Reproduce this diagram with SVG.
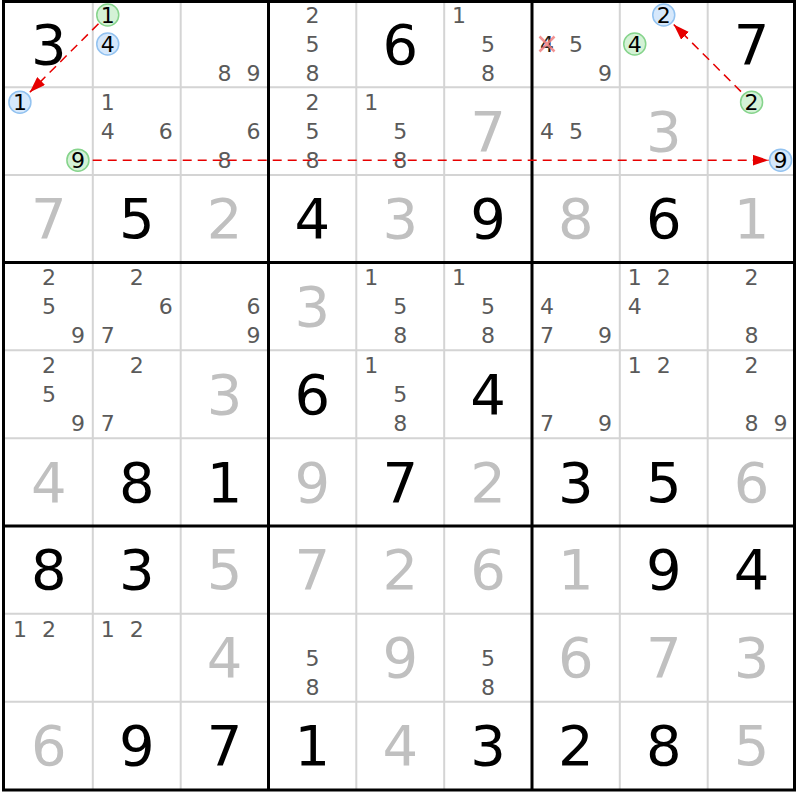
<svg xmlns="http://www.w3.org/2000/svg" width="800" height="800" viewBox="0 0 800 800">
<style>
text{font-family:"DejaVu Sans","Noto Sans",sans-serif;text-anchor:middle}
.big{font-size:56px}
.g{fill:#000}
.s{fill:#c0c0c0}
.c{font-size:22px;fill:#5a5a5a}
.k{font-size:22px;fill:#000}
.thin{stroke:#d4d4d4;stroke-width:2;fill:none}
.thick{stroke:#000;stroke-width:3;fill:none}
.cg{fill:#d4f2d6;stroke:#86d48c;stroke-width:1.5}
.cb{fill:#d6e8fb;stroke:#92c2f0;stroke-width:1.5}
.arr{stroke:#e60000;stroke-width:1.5;stroke-dasharray:9,6;fill:none;marker-end:url(#ah)}
.x{stroke:#f08080;stroke-width:2.5;opacity:0.85}
</style>
<defs>
<marker id="ah" markerWidth="16" markerHeight="11" refX="16" refY="5.5" orient="auto" markerUnits="userSpaceOnUse">
<path d="M0,0 L16,5.5 L0,11 z" fill="#e60000"/>
</marker>
</defs>
<rect x="0" y="0" width="800" height="800" fill="#fff"/>
<g id="grid">
<path class="thin" d="M92.8,0V790M180.7,0V790M356.3,0V790M444.2,0V790M619.8,0V790M707.7,0V790M3,87.3H795M3,175H795M3,350.3H795M3,438.2H795M3,613.8H795M3,701.7H795"/>
<path class="thick" d="M268.5,0V790M532,0V790M3,262.5H795M3,526H795"/>
<rect class="thick" x="3.5" y="1.5" width="791" height="788.5"/>
</g>
<g id="r0c0"><text class="big g" x="48.9" y="63.5">3</text></g>
<g id="r0c1"><circle class="cg" cx="107.75" cy="15" r="11"/><text class="k" x="107.75" y="23">1</text><circle class="cb" cx="107.75" cy="44" r="11"/><text class="k" x="107.75" y="52">4</text></g>
<g id="r0c2"><text class="c" x="224.6" y="81">8</text><text class="c" x="253.6" y="81">9</text></g>
<g id="r0c3"><text class="c" x="312.4" y="23">2</text><text class="c" x="312.4" y="52">5</text><text class="c" x="312.4" y="81">8</text></g>
<g id="r0c4"><text class="big g" x="400.25" y="63.5">6</text></g>
<g id="r0c5"><text class="c" x="459.1" y="23">1</text><text class="c" x="488.1" y="52">5</text><text class="c" x="488.1" y="81">8</text></g>
<g id="r0c6"><text class="k" x="546.9" y="52" style="fill:#222">4</text><path class="x" d="M539.5,36.5L554.5,51.5M554.5,36.5L539.5,51.5"/><text class="c" x="575.9" y="52">5</text><text class="c" x="604.9" y="81">9</text></g>
<g id="r0c7"><circle class="cb" cx="663.75" cy="15" r="11"/><text class="k" x="663.75" y="23">2</text><circle class="cg" cx="634.75" cy="44" r="11"/><text class="k" x="634.75" y="52">4</text></g>
<g id="r0c8"><text class="big g" x="751.6" y="63.5">7</text></g>

<g id="r1c0"><circle class="cb" cx="19.9" cy="102.15" r="11"/><text class="k" x="19.9" y="110.15">1</text><circle class="cg" cx="77.9" cy="160.15" r="11"/><text class="k" x="77.9" y="168.15">9</text></g>
<g id="r1c1"><text class="c" x="107.75" y="110.15">1</text><text class="c" x="107.75" y="139.15">4</text><text class="c" x="165.75" y="139.15">6</text></g>
<g id="r1c2"><text class="c" x="253.6" y="139.15">6</text><text class="c" x="224.6" y="168.15">8</text></g>
<g id="r1c3"><text class="c" x="312.4" y="110.15">2</text><text class="c" x="312.4" y="139.15">5</text><text class="c" x="312.4" y="168.15">8</text></g>
<g id="r1c4"><text class="c" x="371.25" y="110.15">1</text><text class="c" x="400.25" y="139.15">5</text><text class="c" x="400.25" y="168.15">8</text></g>
<g id="r1c5"><text class="big s" x="488.1" y="150.65">7</text></g>
<g id="r1c6"><text class="c" x="546.9" y="139.15">4</text><text class="c" x="575.9" y="139.15">5</text></g>
<g id="r1c7"><text class="big s" x="663.75" y="150.65">3</text></g>
<g id="r1c8"><circle class="cg" cx="751.6" cy="102.15" r="11"/><text class="k" x="751.6" y="110.15">2</text><circle class="cb" cx="780.6" cy="160.15" r="11"/><text class="k" x="780.6" y="168.15">9</text></g>

<g id="r2c0"><text class="big s" x="48.9" y="238.25">7</text></g>
<g id="r2c1"><text class="big g" x="136.75" y="238.25">5</text></g>
<g id="r2c2"><text class="big s" x="224.6" y="238.25">2</text></g>
<g id="r2c3"><text class="big g" x="312.4" y="238.25">4</text></g>
<g id="r2c4"><text class="big s" x="400.25" y="238.25">3</text></g>
<g id="r2c5"><text class="big g" x="488.1" y="238.25">9</text></g>
<g id="r2c6"><text class="big s" x="575.9" y="238.25">8</text></g>
<g id="r2c7"><text class="big g" x="663.75" y="238.25">6</text></g>
<g id="r2c8"><text class="big s" x="751.6" y="238.25">1</text></g>

<g id="r3c0"><text class="c" x="48.9" y="285.4">2</text><text class="c" x="48.9" y="314.4">5</text><text class="c" x="77.9" y="343.4">9</text></g>
<g id="r3c1"><text class="c" x="136.75" y="285.4">2</text><text class="c" x="165.75" y="314.4">6</text><text class="c" x="107.75" y="343.4">7</text></g>
<g id="r3c2"><text class="c" x="253.6" y="314.4">6</text><text class="c" x="253.6" y="343.4">9</text></g>
<g id="r3c3"><text class="big s" x="312.4" y="325.9">3</text></g>
<g id="r3c4"><text class="c" x="371.25" y="285.4">1</text><text class="c" x="400.25" y="314.4">5</text><text class="c" x="400.25" y="343.4">8</text></g>
<g id="r3c5"><text class="c" x="459.1" y="285.4">1</text><text class="c" x="488.1" y="314.4">5</text><text class="c" x="488.1" y="343.4">8</text></g>
<g id="r3c6"><text class="c" x="546.9" y="314.4">4</text><text class="c" x="546.9" y="343.4">7</text><text class="c" x="604.9" y="343.4">9</text></g>
<g id="r3c7"><text class="c" x="634.75" y="285.4">1</text><text class="c" x="663.75" y="285.4">2</text><text class="c" x="634.75" y="314.4">4</text></g>
<g id="r3c8"><text class="c" x="751.6" y="285.4">2</text><text class="c" x="751.6" y="343.4">8</text></g>

<g id="r4c0"><text class="c" x="48.9" y="373.25">2</text><text class="c" x="48.9" y="402.25">5</text><text class="c" x="77.9" y="431.25">9</text></g>
<g id="r4c1"><text class="c" x="136.75" y="373.25">2</text><text class="c" x="107.75" y="431.25">7</text></g>
<g id="r4c2"><text class="big s" x="224.6" y="413.75">3</text></g>
<g id="r4c3"><text class="big g" x="312.4" y="413.75">6</text></g>
<g id="r4c4"><text class="c" x="371.25" y="373.25">1</text><text class="c" x="400.25" y="402.25">5</text><text class="c" x="400.25" y="431.25">8</text></g>
<g id="r4c5"><text class="big g" x="488.1" y="413.75">4</text></g>
<g id="r4c6"><text class="c" x="546.9" y="431.25">7</text><text class="c" x="604.9" y="431.25">9</text></g>
<g id="r4c7"><text class="c" x="634.75" y="373.25">1</text><text class="c" x="663.75" y="373.25">2</text></g>
<g id="r4c8"><text class="c" x="751.6" y="373.25">2</text><text class="c" x="751.6" y="431.25">8</text><text class="c" x="780.6" y="431.25">9</text></g>

<g id="r5c0"><text class="big s" x="48.9" y="501.6">4</text></g>
<g id="r5c1"><text class="big g" x="136.75" y="501.6">8</text></g>
<g id="r5c2"><text class="big g" x="224.6" y="501.6">1</text></g>
<g id="r5c3"><text class="big s" x="312.4" y="501.6">9</text></g>
<g id="r5c4"><text class="big g" x="400.25" y="501.6">7</text></g>
<g id="r5c5"><text class="big s" x="488.1" y="501.6">2</text></g>
<g id="r5c6"><text class="big g" x="575.9" y="501.6">3</text></g>
<g id="r5c7"><text class="big g" x="663.75" y="501.6">5</text></g>
<g id="r5c8"><text class="big s" x="751.6" y="501.6">6</text></g>

<g id="r6c0"><text class="big g" x="48.9" y="589.4">8</text></g>
<g id="r6c1"><text class="big g" x="136.75" y="589.4">3</text></g>
<g id="r6c2"><text class="big s" x="224.6" y="589.4">5</text></g>
<g id="r6c3"><text class="big s" x="312.4" y="589.4">7</text></g>
<g id="r6c4"><text class="big s" x="400.25" y="589.4">2</text></g>
<g id="r6c5"><text class="big s" x="488.1" y="589.4">6</text></g>
<g id="r6c6"><text class="big s" x="575.9" y="589.4">1</text></g>
<g id="r6c7"><text class="big g" x="663.75" y="589.4">9</text></g>
<g id="r6c8"><text class="big g" x="751.6" y="589.4">4</text></g>

<g id="r7c0"><text class="c" x="19.9" y="636.75">1</text><text class="c" x="48.9" y="636.75">2</text></g>
<g id="r7c1"><text class="c" x="107.75" y="636.75">1</text><text class="c" x="136.75" y="636.75">2</text></g>
<g id="r7c2"><text class="big s" x="224.6" y="677.25">4</text></g>
<g id="r7c3"><text class="c" x="312.4" y="665.75">5</text><text class="c" x="312.4" y="694.75">8</text></g>
<g id="r7c4"><text class="big s" x="400.25" y="677.25">9</text></g>
<g id="r7c5"><text class="c" x="488.1" y="665.75">5</text><text class="c" x="488.1" y="694.75">8</text></g>
<g id="r7c6"><text class="big s" x="575.9" y="677.25">6</text></g>
<g id="r7c7"><text class="big s" x="663.75" y="677.25">7</text></g>
<g id="r7c8"><text class="big s" x="751.6" y="677.25">3</text></g>

<g id="r8c0"><text class="big s" x="48.9" y="765.1">6</text></g>
<g id="r8c1"><text class="big g" x="136.75" y="765.1">9</text></g>
<g id="r8c2"><text class="big g" x="224.6" y="765.1">7</text></g>
<g id="r8c3"><text class="big g" x="312.4" y="765.1">1</text></g>
<g id="r8c4"><text class="big s" x="400.25" y="765.1">4</text></g>
<g id="r8c5"><text class="big g" x="488.1" y="765.1">3</text></g>
<g id="r8c6"><text class="big g" x="575.9" y="765.1">2</text></g>
<g id="r8c7"><text class="big g" x="663.75" y="765.1">8</text></g>
<g id="r8c8"><text class="big s" x="751.6" y="765.1">5</text></g>

<g id="connectors">
<path class="arr" d="M98.5,23.8L29.8,92.3"/>
<path class="arr" d="M92.7,160.15L768.5,160.15"/>
<path class="arr" d="M741,91.6L673.7,24.5"/>
</g>
</svg>
